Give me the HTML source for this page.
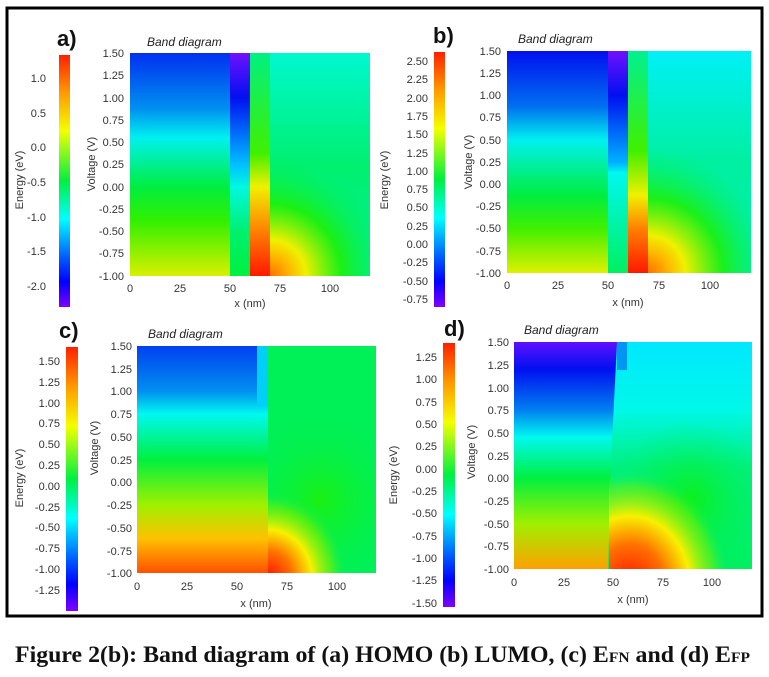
<!DOCTYPE html>
<html><head><meta charset="utf-8"><style>
body{margin:0;background:#fff;width:769px;height:672px;overflow:hidden}
</style></head><body>
<svg width="769" height="672" xmlns="http://www.w3.org/2000/svg" font-family="Liberation Sans, sans-serif">
<defs>
<linearGradient id="cb" x1="0" y1="0" x2="0" y2="1">
<stop offset="0" stop-color="#ff2000"/><stop offset="0.15" stop-color="#ff9a00"/><stop offset="0.3" stop-color="#f4ff00"/><stop offset="0.5" stop-color="#00f040"/><stop offset="0.65" stop-color="#00ffff"/><stop offset="0.8" stop-color="#0060ff"/><stop offset="0.9" stop-color="#0000ff"/><stop offset="1" stop-color="#8000ff"/></linearGradient>
<linearGradient id="a1" x1="0" y1="0" x2="0" y2="1"><stop offset="0" stop-color="#0030f0"/><stop offset="0.25" stop-color="#0090f0"/><stop offset="0.38" stop-color="#00f0f0"/><stop offset="0.6" stop-color="#00ee40"/><stop offset="0.75" stop-color="#30f000"/><stop offset="1" stop-color="#d8f000"/></linearGradient>
<linearGradient id="a2" x1="0" y1="0" x2="0" y2="1"><stop offset="0" stop-color="#7010ff"/><stop offset="0.2" stop-color="#0010f0"/><stop offset="0.5" stop-color="#00c0ff"/><stop offset="0.6" stop-color="#00f8e0"/><stop offset="0.8" stop-color="#00f070"/><stop offset="1" stop-color="#00f040"/></linearGradient>
<linearGradient id="a3" x1="0" y1="0" x2="0" y2="1"><stop offset="0" stop-color="#00f080"/><stop offset="0.45" stop-color="#40f000"/><stop offset="0.6" stop-color="#f0f000"/><stop offset="0.8" stop-color="#ff8000"/><stop offset="1" stop-color="#ff1800"/></linearGradient>
<linearGradient id="a4" x1="0" y1="0" x2="0" y2="1"><stop offset="0" stop-color="#00f8d0"/><stop offset="0.5" stop-color="#00f070"/><stop offset="1" stop-color="#00f090"/></linearGradient>
<radialGradient id="hotA" gradientUnits="userSpaceOnUse" cx="270" cy="276" r="120"><stop offset="0" stop-color="#ff7000"/><stop offset="0.15" stop-color="#ffb000"/><stop offset="0.3" stop-color="#f0f000"/><stop offset="0.6" stop-color="#20f000" stop-opacity="0.85"/><stop offset="1" stop-color="#00f060" stop-opacity="0"/></radialGradient>
<radialGradient id="hotB" gradientUnits="userSpaceOnUse" cx="648" cy="273" r="125"><stop offset="0" stop-color="#ff7000"/><stop offset="0.15" stop-color="#ffb000"/><stop offset="0.3" stop-color="#f0f000"/><stop offset="0.6" stop-color="#20f000" stop-opacity="0.85"/><stop offset="1" stop-color="#00f060" stop-opacity="0"/></radialGradient>
<radialGradient id="grnC" gradientUnits="userSpaceOnUse" cx="320" cy="500" r="90"><stop offset="0" stop-color="#20f000" stop-opacity="0.8"/><stop offset="1" stop-color="#00f050" stop-opacity="0"/></radialGradient>
<radialGradient id="grnD" gradientUnits="userSpaceOnUse" cx="690" cy="500" r="80"><stop offset="0" stop-color="#10f000" stop-opacity="0.8"/><stop offset="1" stop-color="#00f060" stop-opacity="0"/></radialGradient>
<radialGradient id="hotC" gradientUnits="userSpaceOnUse" cx="268" cy="578" r="80" gradientTransform="translate(268 578) scale(1 1.1) translate(-268 -578)"><stop offset="0" stop-color="#ff1000"/><stop offset="0.3" stop-color="#ff7000"/><stop offset="0.55" stop-color="#f8f000"/><stop offset="0.8" stop-color="#80f000" stop-opacity="0.6"/><stop offset="1" stop-color="#00f060" stop-opacity="0"/></radialGradient>
<radialGradient id="hotD" gradientUnits="userSpaceOnUse" cx="630" cy="585" r="100" gradientTransform="translate(630 585) scale(1 1.15) translate(-630 -585)"><stop offset="0" stop-color="#ff1000"/><stop offset="0.35" stop-color="#ff7000"/><stop offset="0.6" stop-color="#f8f000"/><stop offset="0.85" stop-color="#80f000" stop-opacity="0.5"/><stop offset="1" stop-color="#00f060" stop-opacity="0"/></radialGradient>
<linearGradient id="b1" x1="0" y1="0" x2="0" y2="1"><stop offset="0" stop-color="#0010f0"/><stop offset="0.25" stop-color="#0070f0"/><stop offset="0.4" stop-color="#00f0f0"/><stop offset="0.65" stop-color="#00ee40"/><stop offset="0.8" stop-color="#40f000"/><stop offset="1" stop-color="#e0f000"/></linearGradient>
<linearGradient id="b2" x1="0" y1="0" x2="0" y2="1"><stop offset="0" stop-color="#7010ff"/><stop offset="0.2" stop-color="#0010f0"/><stop offset="0.5" stop-color="#00b0ff"/><stop offset="0.55" stop-color="#00f8f0"/><stop offset="1" stop-color="#00f060"/></linearGradient>
<linearGradient id="b3" x1="0" y1="0" x2="0" y2="1"><stop offset="0" stop-color="#00f090"/><stop offset="0.45" stop-color="#40f000"/><stop offset="0.65" stop-color="#f0f000"/><stop offset="0.8" stop-color="#ff8000"/><stop offset="1" stop-color="#ff1800"/></linearGradient>
<linearGradient id="b4" x1="0" y1="0" x2="0" y2="1"><stop offset="0" stop-color="#00f0f8"/><stop offset="0.5" stop-color="#00f0a0"/><stop offset="1" stop-color="#00f0b0"/></linearGradient>
<linearGradient id="c1" x1="0" y1="0" x2="0" y2="1"><stop offset="0" stop-color="#0040f0"/><stop offset="0.2" stop-color="#0090f0"/><stop offset="0.3" stop-color="#00f8f0"/><stop offset="0.5" stop-color="#00f040"/><stop offset="0.7" stop-color="#a0f000"/><stop offset="0.85" stop-color="#ffc000"/><stop offset="1" stop-color="#ff5000"/></linearGradient>
<linearGradient id="d1" x1="0" y1="0" x2="0" y2="1"><stop offset="0" stop-color="#6010ff"/><stop offset="0.12" stop-color="#0010f0"/><stop offset="0.3" stop-color="#0080f0"/><stop offset="0.42" stop-color="#00f8f0"/><stop offset="0.6" stop-color="#00f040"/><stop offset="0.8" stop-color="#a0f000"/><stop offset="1" stop-color="#ffa000"/></linearGradient>
<linearGradient id="d4" x1="0" y1="0" x2="0" y2="1"><stop offset="0" stop-color="#00e8ff"/><stop offset="0.3" stop-color="#00f8e8"/><stop offset="0.55" stop-color="#00f080"/><stop offset="1" stop-color="#00f060"/></linearGradient>
<clipPath id="cpA"><rect x="270" y="53" width="100" height="223"/></clipPath>
<clipPath id="cpB"><rect x="648" y="51" width="103" height="222"/></clipPath>
<clipPath id="cpC"><rect x="137" y="346" width="239" height="227"/></clipPath>
<clipPath id="cpC2"><rect x="268" y="346" width="108" height="227"/></clipPath>
<clipPath id="cpD"><rect x="514" y="342" width="238" height="227"/></clipPath>
<clipPath id="cpD2"><rect x="609" y="342" width="143" height="227"/></clipPath>
</defs>
<rect x="7" y="8" width="755" height="608" fill="none" stroke="#000" stroke-width="3"/>

<g font-size="11" fill="#333">
<!-- Panel a -->
<text x="57" y="46" font-size="22" font-weight="bold" fill="#111">a)</text>
<text x="147" y="46" font-size="12" font-style="italic" fill="#222">Band diagram</text>
<rect x="59" y="55" width="11" height="252" fill="url(#cb)"/>
<g text-anchor="end"><text x="46" y="82">1.0</text><text x="46" y="117">0.5</text><text x="46" y="151">0.0</text><text x="46" y="186">-0.5</text><text x="46" y="221">-1.0</text><text x="46" y="255">-1.5</text><text x="46" y="290">-2.0</text></g>
<text transform="translate(23,180) rotate(-90)" text-anchor="middle">Energy (eV)</text>
<rect x="130" y="53" width="100" height="223" fill="url(#a1)"/>
<rect x="230" y="53" width="20" height="223" fill="url(#a2)"/>
<rect x="250" y="53" width="20" height="223" fill="url(#a3)"/>
<rect x="270" y="53" width="100" height="223" fill="url(#a4)"/>
<rect x="270" y="53" width="100" height="223" fill="url(#hotA)" clip-path="url(#cpA)"/>
<g text-anchor="end"><text x="124" y="57">1.50</text><text x="124" y="79">1.25</text><text x="124" y="102">1.00</text><text x="124" y="124">0.75</text><text x="124" y="146">0.50</text><text x="124" y="168">0.25</text><text x="124" y="191">0.00</text><text x="124" y="213">-0.25</text><text x="124" y="235">-0.50</text><text x="124" y="257">-0.75</text><text x="124" y="280">-1.00</text></g>
<text transform="translate(95,164) rotate(-90)" text-anchor="middle">Voltage (V)</text>
<g text-anchor="middle"><text x="130" y="292">0</text><text x="180" y="292">25</text><text x="230" y="292">50</text><text x="280" y="292">75</text><text x="330" y="292">100</text><text x="250" y="307">x (nm)</text></g>

<!-- Panel b -->
<text x="433" y="43" font-size="22" font-weight="bold" fill="#111">b)</text>
<text x="518" y="43" font-size="12" font-style="italic" fill="#222">Band diagram</text>
<rect x="434" y="52" width="11" height="255" fill="url(#cb)"/>
<g text-anchor="end"><text x="428" y="65">2.50</text><text x="428" y="83">2.25</text><text x="428" y="102">2.00</text><text x="428" y="120">1.75</text><text x="428" y="138">1.50</text><text x="428" y="157">1.25</text><text x="428" y="175">1.00</text><text x="428" y="193">0.75</text><text x="428" y="211">0.50</text><text x="428" y="230">0.25</text><text x="428" y="248">0.00</text><text x="428" y="266">-0.25</text><text x="428" y="285">-0.50</text><text x="428" y="303">-0.75</text></g>
<text transform="translate(388,180) rotate(-90)" text-anchor="middle">Energy (eV)</text>
<rect x="507" y="51" width="101" height="222" fill="url(#b1)"/>
<rect x="608" y="51" width="20" height="222" fill="url(#b2)"/>
<rect x="628" y="51" width="20" height="222" fill="url(#b3)"/>
<rect x="648" y="51" width="103" height="222" fill="url(#b4)"/>
<rect x="648" y="51" width="103" height="222" fill="url(#hotB)" clip-path="url(#cpB)"/>
<g text-anchor="end"><text x="501" y="55">1.50</text><text x="501" y="77">1.25</text><text x="501" y="99">1.00</text><text x="501" y="121">0.75</text><text x="501" y="144">0.50</text><text x="501" y="166">0.25</text><text x="501" y="188">0.00</text><text x="501" y="210">-0.25</text><text x="501" y="232">-0.50</text><text x="501" y="255">-0.75</text><text x="501" y="277">-1.00</text></g>
<text transform="translate(472,162) rotate(-90)" text-anchor="middle">Voltage (V)</text>
<g text-anchor="middle"><text x="507" y="289">0</text><text x="558" y="289">25</text><text x="608" y="289">50</text><text x="659" y="289">75</text><text x="710" y="289">100</text><text x="628" y="306">x (nm)</text></g>

<!-- Panel c -->
<text x="59" y="338" font-size="22" font-weight="bold" fill="#111">c)</text>
<text x="148" y="338" font-size="12" font-style="italic" fill="#222">Band diagram</text>
<rect x="66" y="347" width="12" height="264" fill="url(#cb)"/>
<g text-anchor="end"><text x="60" y="365">1.50</text><text x="60" y="386">1.25</text><text x="60" y="407">1.00</text><text x="60" y="427">0.75</text><text x="60" y="448">0.50</text><text x="60" y="469">0.25</text><text x="60" y="490">0.00</text><text x="60" y="511">-0.25</text><text x="60" y="531">-0.50</text><text x="60" y="552">-0.75</text><text x="60" y="573">-1.00</text><text x="60" y="594">-1.25</text></g>
<text transform="translate(23,478) rotate(-90)" text-anchor="middle">Energy (eV)</text>
<rect x="137" y="346" width="239" height="227" fill="#00f058"/>
<rect x="137" y="346" width="239" height="227" fill="url(#grnC)" clip-path="url(#cpC)"/>
<rect x="137" y="346" width="131" height="227" fill="url(#c1)"/>
<rect x="257" y="346" width="11" height="60" fill="#00d0f8"/>
<rect x="268" y="346" width="108" height="227" fill="url(#hotC)" clip-path="url(#cpC2)"/>
<g text-anchor="end"><text x="132" y="350">1.50</text><text x="132" y="373">1.25</text><text x="132" y="395">1.00</text><text x="132" y="418">0.75</text><text x="132" y="441">0.50</text><text x="132" y="464">0.25</text><text x="132" y="486">0.00</text><text x="132" y="509">-0.25</text><text x="132" y="532">-0.50</text><text x="132" y="555">-0.75</text><text x="132" y="577">-1.00</text></g>
<text transform="translate(98,448) rotate(-90)" text-anchor="middle">Voltage (V)</text>
<g text-anchor="middle"><text x="137" y="590">0</text><text x="187" y="590">25</text><text x="237" y="590">50</text><text x="287" y="590">75</text><text x="337" y="590">100</text><text x="256" y="607">x (nm)</text></g>

<!-- Panel d -->
<text x="444" y="336" font-size="22" font-weight="bold" fill="#111">d)</text>
<text x="524" y="334" font-size="12" font-style="italic" fill="#222">Band diagram</text>
<rect x="443" y="343" width="12" height="264" fill="url(#cb)"/>
<g text-anchor="end"><text x="437" y="361">1.25</text><text x="437" y="383">1.00</text><text x="437" y="406">0.75</text><text x="437" y="428">0.50</text><text x="437" y="450">0.25</text><text x="437" y="473">0.00</text><text x="437" y="495">-0.25</text><text x="437" y="517">-0.50</text><text x="437" y="540">-0.75</text><text x="437" y="562">-1.00</text><text x="437" y="584">-1.25</text><text x="437" y="607">-1.50</text></g>
<text transform="translate(397,475) rotate(-90)" text-anchor="middle">Energy (eV)</text>
<rect x="514" y="342" width="238" height="227" fill="url(#d4)"/>
<rect x="514" y="342" width="238" height="227" fill="url(#grnD)" clip-path="url(#cpD)"/>
<path d="M514 342 H617 L612 442 L608 569 H514 Z" fill="url(#d1)"/>
<rect x="617" y="342" width="10" height="28" fill="#0070f0" opacity="0.7"/>
<rect x="608" y="342" width="144" height="227" fill="url(#hotD)" clip-path="url(#cpD2)"/>
<g text-anchor="end"><text x="509" y="346">1.50</text><text x="509" y="369">1.25</text><text x="509" y="392">1.00</text><text x="509" y="414">0.75</text><text x="509" y="437">0.50</text><text x="509" y="460">0.25</text><text x="509" y="482">0.00</text><text x="509" y="505">-0.25</text><text x="509" y="528">-0.50</text><text x="509" y="550">-0.75</text><text x="509" y="573">-1.00</text></g>
<text transform="translate(475,452) rotate(-90)" text-anchor="middle">Voltage (V)</text>
<g text-anchor="middle"><text x="514" y="586">0</text><text x="564" y="586">25</text><text x="613" y="586">50</text><text x="663" y="586">75</text><text x="712" y="586">100</text><text x="633" y="603">x (nm)</text></g>
</g>

<text x="15" y="662" style="font-family:'Liberation Serif',serif" font-weight="bold" font-size="23" fill="#111" textLength="735" lengthAdjust="spacingAndGlyphs">Figure 2(b): Band diagram of (a) HOMO (b) LUMO, (c) E<tspan font-size="15">FN</tspan> and (d) E<tspan font-size="15">FP</tspan></text>
</svg>
</body></html>
